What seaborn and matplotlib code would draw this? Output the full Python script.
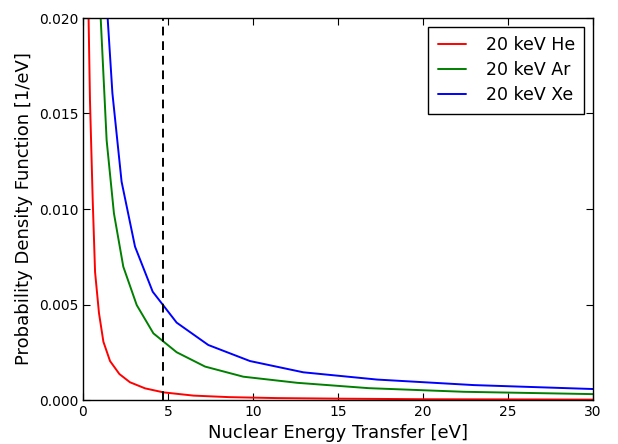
import numpy as np
import pandas as pd
import matplotlib
matplotlib.use("Agg")
import matplotlib.pyplot as plt
import seaborn as sns

he_x = [0.30, 0.41, 0.57, 0.71, 0.94, 1.20, 1.59, 2.14, 2.76, 3.65, 4.73, 6.5, 8.6, 11.4, 15.2, 20.2, 26.8, 30.5]
he_y = [0.0215, 0.0157, 0.0105, 0.0067, 0.00455, 0.00305, 0.00204, 0.00136, 0.00093, 0.00061, 0.00040,
        0.00023, 0.00015, 0.00010, 0.00007, 0.00004, 0.00003, 0.00002]
ar_x = [0.98, 1.39, 1.82, 2.37, 3.16, 4.14, 5.51, 7.18, 9.43, 12.6, 16.8, 22.4, 30.5]
ar_y = [0.0211, 0.0136, 0.00977, 0.00698, 0.00497, 0.00349, 0.00250, 0.00175, 0.00122, 0.00090,
        0.00062, 0.00043, 0.00030]
xe_x = [1.30, 1.73, 2.27, 3.06, 4.10, 5.51, 7.37, 9.82, 12.96, 17.3, 23.0, 30.5]
xe_y = [0.0221, 0.01606, 0.01143, 0.00803, 0.00567, 0.00405, 0.00288, 0.00204, 0.00145, 0.00107,
        0.00078, 0.00056]
labels = ["20 keV He", "20 keV Ar", "20 keV Xe"]
threshold = 4.73

df = pd.concat([
    pd.DataFrame({"x": he_x, "y": he_y, "s": labels[0]}),
    pd.DataFrame({"x": ar_x, "y": ar_y, "s": labels[1]}),
    pd.DataFrame({"x": xe_x, "y": xe_y, "s": labels[2]}),
])

sns.set_style("ticks")
plt.rcParams["font.family"] = ["DejaVu Sans"]
plt.rcParams["xtick.direction"] = "in"
plt.rcParams["ytick.direction"] = "in"
plt.rcParams["text.color"] = "black"
plt.rcParams["axes.labelcolor"] = "black"
plt.rcParams["xtick.color"] = "black"
plt.rcParams["ytick.color"] = "black"

fig = plt.figure(figsize=(6.18, 4.44), dpi=100)
ax = fig.add_axes([83/618, 1-400/444, (593-83)/618, (400-18)/444])
sns.lineplot(data=df, x="x", y="y", hue="s", palette=["#ff0000", "#008000", "#0000ff"],
             linewidth=1.4, ax=ax, sort=True)
ax.axvline(threshold, color="k", linestyle="--", linewidth=1.4, dashes=(4.5, 3))
ax.set_xlim(0, 30)
ax.set_ylim(0, 0.020)
ax.set_xticks([0, 5, 10, 15, 20, 25, 30])
ax.set_yticks([0.0, 0.005, 0.010, 0.015, 0.020])
ax.set_yticklabels(["0.000", "0.005", "0.010", "0.015", "0.020"])
ax.tick_params(direction="in", top=True, right=True, labelsize=10, length=5, width=0.8,
               color="k", labelcolor="k")
for s in ax.spines.values():
    s.set_color("k")
    s.set_linewidth(1.0)
ax.set_xlabel("Nuclear Energy Transfer [eV]", fontsize=13, color="k")
ax.set_ylabel("Probability Density Function [1/eV]", fontsize=13, color="k")
leg = ax.legend(loc="upper right", fontsize=12.5, fancybox=False, frameon=True,
                edgecolor="k", framealpha=1, handlelength=1.6, handletextpad=1.15,
                borderpad=0.55, labelspacing=0.4, borderaxespad=0.5)
leg.get_frame().set_linewidth(1.0)
for t in leg.get_texts():
    t.set_color("k")
fig.savefig("out.png", dpi=100)
